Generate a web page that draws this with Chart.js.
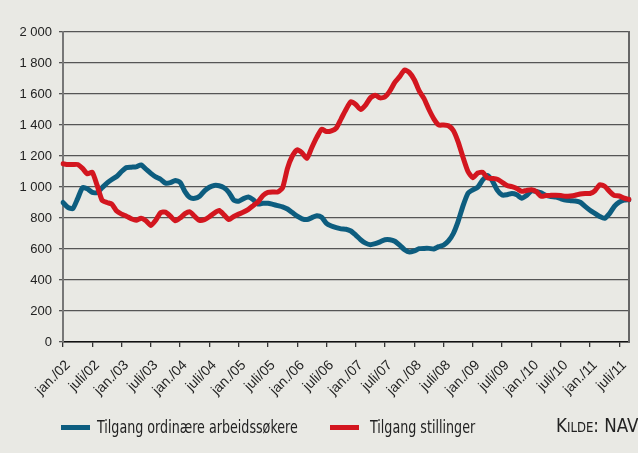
<!DOCTYPE html>
<html>
<head>
<meta charset="utf-8">
<script src="https://cdn.jsdelivr.net/npm/chart.js@4.4.0/dist/chart.umd.min.js"></script>
<style>
  html, body { margin: 0; padding: 0; background: #e9e9e4; }
  #wrap { position: relative; width: 638px; height: 453px; background: #e9e9e4; overflow: hidden; }
  #c { position: absolute; left: 0; top: 0; }
  .leg { position: absolute; font-family: "Liberation Sans Narrow", "DejaVu Sans Condensed", "Liberation Sans", Arial, sans-serif; font-size: 17px; color: #222; white-space: nowrap; transform-origin: 0 0; }
  .sw { position: absolute; height: 5px; width: 29px; }
</style>
</head>
<body>
<div id="wrap">
  <canvas id="c" width="638" height="453"></canvas>
  <div class="sw" style="left:61px; top:425px; background:#0d5d7f;"></div>
  <div class="leg" style="left:97px; top:417px; transform: scaleX(0.83);">Tilgang ordinære arbeidssøkere</div>
  <div class="sw" style="left:330px; top:425px; background:#d3161f;"></div>
  <div class="leg" style="left:370px; top:417px; transform: scaleX(0.83);">Tilgang stillinger</div>
  <div class="leg" style="left:556px; top:413px; font-size:20px; font-variant: small-caps; transform: scaleX(0.93);">Kilde: NAV</div>
</div>
<script>
// Month categories jan 2002 .. sep 2011
const monthNames = ['jan.','feb.','mars','apr.','mai','juni','juli','aug.','sep.','okt.','nov.','des.'];
const categories = [];
for (let y = 2002; y <= 2011; y++) {
  for (let m = 0; m < 12; m++) {
    if (y === 2011 && m > 8) break;
    categories.push(monthNames[m] + '/' + String(y).slice(2));
  }
}

const tickLabels = ['jan./02','juli/02','jan./03','juli/03','jan./04','juli/04','jan./05','juli/05',
  'jan./06','juli/06','jan./07','juli/07','jan./08','juli/08','jan./09','juli/09',
  'jan./10','juli/10','jan./11','juli/11'];

const yTicks = [0,200,400,600,800,1000,1200,1400,1600,1800,2000];

// Tilgang ordinære arbeidssøkere
const arbeidssokere = [
  900,868,860,925,995,988,965,965,995,1025,1048,1068,
  1100,1125,1128,1130,1142,1115,1088,1065,1050,1025,1028,1042,
  1030,970,932,927,940,975,998,1010,1008,995,965,915,
  908,925,935,918,890,895,895,888,880,872,858,835,
  812,795,790,802,815,805,765,748,738,730,727,716,
  690,660,638,628,635,646,660,660,650,625,595,580,
  588,602,604,604,600,615,625,652,700,780,880,960,
  982,998,1045,1075,1040,980,948,950,958,950,928,945,
  975,972,962,945,938,935,925,915,912,910,902,875,
  850,830,810,798,828,875,902,915,918
];

// Tilgang stillinger
const stillinger = [
  1150,1145,1145,1145,1120,1085,1095,1010,915,900,890,845,
  825,812,795,785,798,782,752,785,835,838,812,782,
  800,828,840,810,785,790,808,832,848,820,790,810,
  825,838,856,880,905,945,965,968,968,995,1120,1200,
  1240,1220,1185,1255,1320,1372,1358,1362,1380,1440,1500,1550,
  1532,1500,1528,1575,1592,1575,1582,1620,1675,1712,1755,1738,
  1692,1620,1570,1500,1440,1400,1400,1395,1365,1290,1190,1100,
  1060,1090,1095,1058,1055,1050,1030,1010,1002,990,972,978,
  982,970,940,945,946,947,945,940,942,947,955,958,
  958,975,1015,1005,972,945,942,928,920
];

const FONT = '"Liberation Sans", Arial, sans-serif';

new Chart(document.getElementById('c'), {
  type: 'line',
  data: {
    labels: categories,
    datasets: [
      {
        label: 'Tilgang stillinger',
        data: stillinger,
        borderColor: '#d3161f',
        borderWidth: 5,
        pointRadius: 0,
        tension: 0.2,
        borderJoinStyle: 'round',
        borderCapStyle: 'round',
        fill: false,
        order: 0
      },
      {
        label: 'Tilgang ordinære arbeidssøkere',
        data: arbeidssokere,
        borderColor: '#0d5d7f',
        borderWidth: 5,
        pointRadius: 0,
        tension: 0.2,
        borderJoinStyle: 'round',
        borderCapStyle: 'round',
        fill: false,
        order: 1
      }
    ]
  },
  options: {
    responsive: false,
    animation: false,
    events: [],
    layout: { padding: { left: 0, right: 9, top: 32, bottom: 0 } },
    plugins: { legend: { display: false }, tooltip: { enabled: false } },
    scales: {
      x: {
        type: 'category',
        offset: false,
        grid: { drawOnChartArea: false, drawTicks: true, tickLength: 5, color: '#333', lineWidth: 1.3 },
        border: { display: true, color: '#111', width: 1.5 },
        ticks: {
          autoSkip: false,
          maxRotation: 45,
          minRotation: 45,
          padding: 10,
          labelOffset: 5,
          color: '#222',
          font: { family: FONT, size: 14 },
          callback: function(val, idx) { return idx % 6 === 0 ? tickLabels[idx / 6] : null; }
        },
        afterFit: function(s) { s.height = 111; s.paddingLeft = 0; s.paddingRight = 0; }
      },
      y: {
        min: 0,
        max: 2000,
        afterBuildTicks: function(s) { s.ticks = yTicks.map(v => ({ value: v })); },
        grid: { color: '#555', lineWidth: 1.3, tickLength: 4, drawTicks: true },
        border: { display: true, color: '#777', width: 2 },
        ticks: {
          padding: 7,
          color: '#222',
          font: { family: FONT, size: 13 },
          callback: function(v) { return v >= 1000 ? Math.floor(v / 1000) + ' ' + String(v % 1000).padStart(3, '0') : String(v); }
        },
        afterFit: function(s) { s.width = 63; }
      },
      y2: {
        position: 'right',
        min: 0,
        max: 2000,
        grid: { display: false, drawOnChartArea: false },
        border: { display: true, color: '#666', width: 2 },
        ticks: { display: false },
        afterFit: function(s) { s.width = 0; }
      }
    }
  }
});
</script>
</body>
</html>
